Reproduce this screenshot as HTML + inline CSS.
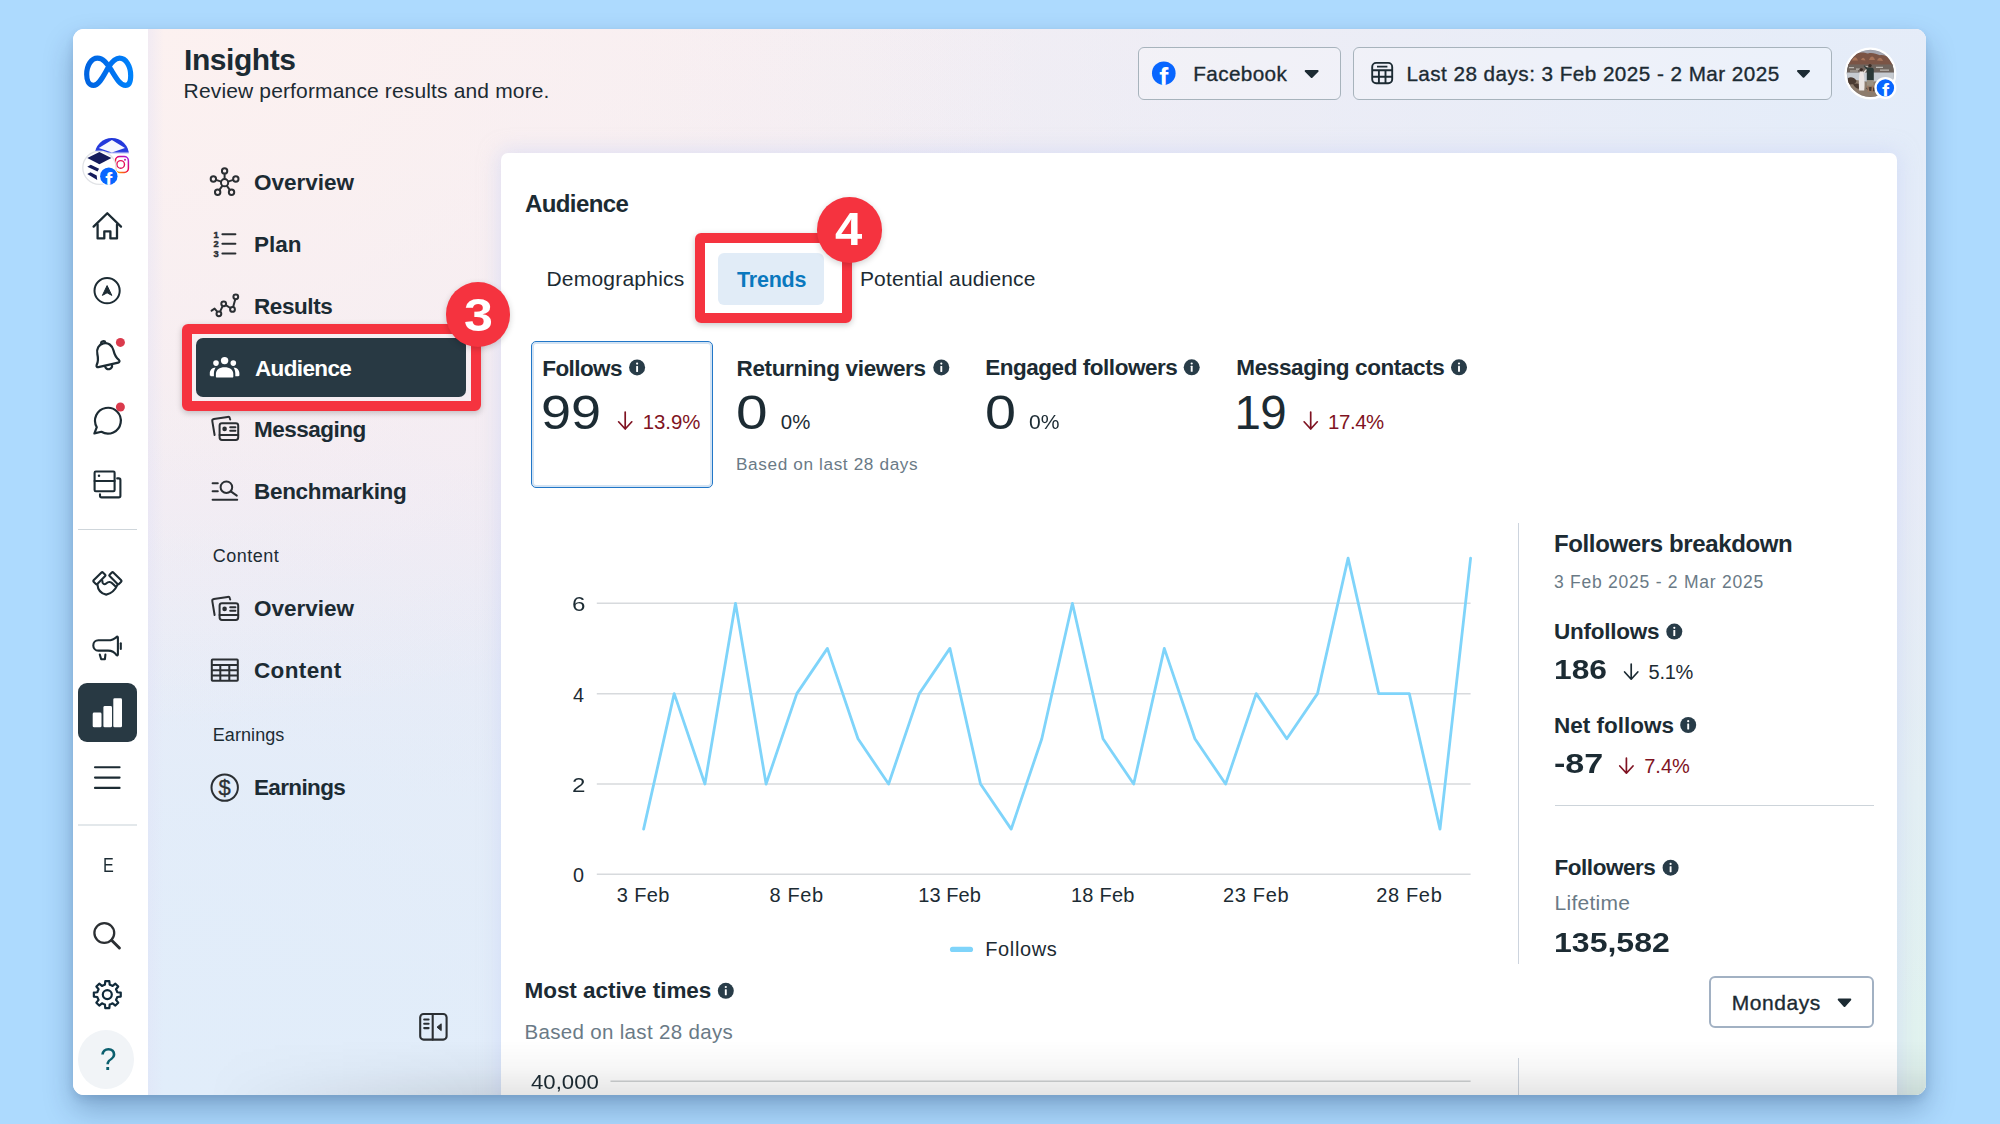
<!DOCTYPE html>
<html lang="en">
<head>
<meta charset="utf-8">
<title>Insights - Audience</title>
<style>
html,body{margin:0;padding:0;}
body{width:2000px;height:1124px;overflow:hidden;background:#addafe;font-family:"Liberation Sans",sans-serif;position:relative;}
.abs{position:absolute;}
#shadow{position:absolute;left:73px;top:29px;width:1853px;height:1066px;border-radius:11px;background:#fff;
  box-shadow:0 15px 30px rgba(5,35,80,.27),0 4px 9px rgba(5,35,80,.11);}
#win{position:absolute;left:0;top:0;width:2000px;height:1124px;clip-path:inset(29px 74px 29px 73px round 11px);}
#bg{position:absolute;left:148px;top:29px;width:1778px;height:1066px;
  background:
   linear-gradient(to right, rgba(224,224,246,.38) 0px, rgba(224,224,246,0) 16px),
   radial-gradient(ellipse 900px 700px at 0% 0%, #fcf1f0 0%, rgba(252,241,240,0) 100%),
   radial-gradient(ellipse 900px 700px at 0% 100%, #e1edfa 0%, rgba(225,237,250,0) 100%),
   radial-gradient(ellipse 1300px 900px at 100% 10%, #e3ecf9 0%, rgba(227,236,249,0) 100%),
   radial-gradient(ellipse 700px 700px at 100% 100%, #e1f3ee 0%, rgba(225,243,238,0) 100%),
   linear-gradient(to bottom, #f6eef2 0%, #efeaf4 45%, #e6ecf7 72%, #e2edf9 100%);}
#rail{position:absolute;left:73px;top:29px;width:75px;height:1066px;background:#fff;}
#card{position:absolute;left:501px;top:152.5px;width:1396px;height:960px;background:#fff;border-radius:7px 7px 0 0;box-shadow:0 0 20px 2px rgba(198,208,244,.52);}
.t{position:absolute;white-space:nowrap;line-height:1;}
.btn{position:absolute;box-sizing:border-box;border:1.8px solid #a7b3bc;border-radius:6px;}
.hl{position:absolute;box-sizing:border-box;border:10px solid #f5333f;border-radius:6px;box-shadow:0 2px 6px rgba(0,0,0,.22);}
.dot{position:absolute;border-radius:50%;background:#f5333f;box-shadow:0 2px 6px rgba(0,0,0,.18);}
</style>
</head>
<body>
<div id="shadow"></div>
<div id="win">
  <div id="bg"></div>
  <div id="rail"></div>
  <div id="card"></div>
  <!-- rail pieces -->
  <div class="abs" style="left:78px;top:528.5px;width:58.5px;height:1.5px;background:#cfd6db"></div>
  <div class="abs" style="left:78px;top:824px;width:58.5px;height:1.5px;background:#e3e8eb"></div>
  <div class="abs" style="left:78px;top:683.2px;width:58.5px;height:58.5px;border-radius:9px;background:#283943"></div>
  <div class="abs" style="left:77.8px;top:1030.2px;width:56px;height:58.4px;border-radius:50%;background:#f1f4f7"></div>
  <!-- active nav -->
  <div class="abs" style="left:195.7px;top:338px;width:270px;height:58.5px;border-radius:7px;background:#283943"></div>
  <!-- header buttons -->
  <div class="btn" style="left:1137.5px;top:47px;width:203px;height:52.5px;background:rgba(255,255,255,.25)"></div>
  <div class="btn" style="left:1353px;top:47px;width:479px;height:52.5px;background:rgba(255,255,255,.25)"></div>
  <!-- tabs -->
  <div class="abs" style="left:718.4px;top:252.6px;width:106px;height:52.6px;border-radius:6px;background:#e1ecf7"></div>
  <!-- follows card -->
  <div class="abs" style="left:530.5px;top:341px;width:182px;height:146.5px;box-sizing:border-box;border:1.6px solid #2277c8;border-radius:5px;box-shadow:inset 0 0 0 2px #d3e3f3"></div>
  <!-- right panel dividers -->
  <div class="abs" style="left:1517.8px;top:522.8px;width:1.5px;height:441px;background:#cdd4de"></div>
  <div class="abs" style="left:1517.8px;top:1058px;width:1.5px;height:40px;background:#cdd4de"></div>
  <div class="abs" style="left:1555px;top:804.5px;width:318.6px;height:1.5px;background:#cdd4da"></div>
  <div class="btn" style="left:1708.5px;top:976px;width:165px;height:52px;border-width:2px;border-color:#a2b1c3"></div>
<svg class="abs" style="left:0;top:0" width="2000" height="1124" viewBox="0 0 2000 1124" font-family="Liberation Sans, sans-serif">
<defs>
<linearGradient id="gMeta" x1="0" y1="0" x2="1" y2="0"><stop offset="0" stop-color="#0064e1"/><stop offset=".5" stop-color="#0070ee"/><stop offset="1" stop-color="#0082fb"/></linearGradient>
<linearGradient id="gBack" x1="0" y1="0" x2="0" y2="1"><stop offset="0" stop-color="#1f35d8"/><stop offset=".40" stop-color="#2a3fe0"/><stop offset=".47" stop-color="#ffffff"/><stop offset="1" stop-color="#ffffff"/></linearGradient>
<linearGradient id="gIg" x1="1" y1="0" x2="0.2" y2="1"><stop offset="0" stop-color="#a020f0"/><stop offset=".55" stop-color="#f00048"/><stop offset="1" stop-color="#ff9a00"/></linearGradient>
<linearGradient id="gAv" x1="0" y1="0" x2="0" y2="1"><stop offset="0" stop-color="#7a5040"/><stop offset=".28" stop-color="#9a6a52"/><stop offset=".42" stop-color="#b9b3ae"/><stop offset=".62" stop-color="#c9c8c8"/><stop offset=".8" stop-color="#a89686"/><stop offset="1" stop-color="#8d7a6a"/></linearGradient>
<clipPath id="cBack"><circle cx="111.9" cy="155" r="17.1"/></clipPath>
<clipPath id="cAv"><circle cx="1870.4" cy="73.4" r="23.6"/></clipPath>
</defs>
<line x1="596.8" y1="874.3" x2="1470.6" y2="874.3" stroke="#d7dadd" stroke-width="1.5"/>
<line x1="596.8" y1="784.0" x2="1470.6" y2="784.0" stroke="#d7dadd" stroke-width="1.5"/>
<line x1="596.8" y1="693.7" x2="1470.6" y2="693.7" stroke="#d7dadd" stroke-width="1.5"/>
<line x1="596.8" y1="603.3" x2="1470.6" y2="603.3" stroke="#d7dadd" stroke-width="1.5"/>
<line x1="610.5" y1="1081.3" x2="1470.6" y2="1081.3" stroke="#cfd2d4" stroke-width="1.5"/>
<polyline points="643.6,829.1 674.2,693.6 704.9,784.0 735.5,603.3 766.1,784.0 796.8,693.6 827.4,648.4 858.0,738.8 888.6,784.0 919.3,693.6 949.9,648.4 980.5,784.0 1011.2,829.1 1041.8,738.8 1072.4,603.3 1103.0,738.8 1133.7,784.0 1164.3,648.4 1194.9,738.8 1225.6,784.0 1256.2,693.6 1286.8,738.8 1317.5,693.6 1348.1,558.1 1378.7,693.6 1409.3,693.6 1440.0,829.1 1470.6,558.1" fill="none" stroke="#7fd4fa" stroke-width="2.8" stroke-linejoin="round" stroke-linecap="round"/>
<line x1="952.6" y1="949.4" x2="970.4" y2="949.4" stroke="#7fd4fa" stroke-width="5.3" stroke-linecap="round"/>
<g><circle cx="637.1" cy="367.4" r="8" fill="#283c48"/><rect x="636.15" y="365.90" width="1.9" height="6" rx=".4" fill="#fff"/><circle cx="637.1" cy="363.60" r="1.1" fill="#fff"/></g>
<g><circle cx="941.3" cy="367.4" r="8" fill="#283c48"/><rect x="940.35" y="365.90" width="1.9" height="6" rx=".4" fill="#fff"/><circle cx="941.3" cy="363.60" r="1.1" fill="#fff"/></g>
<g><circle cx="1191.7" cy="367.3" r="8" fill="#283c48"/><rect x="1190.75" y="365.80" width="1.9" height="6" rx=".4" fill="#fff"/><circle cx="1191.7" cy="363.50" r="1.1" fill="#fff"/></g>
<g><circle cx="1459" cy="367.3" r="8" fill="#283c48"/><rect x="1458.05" y="365.80" width="1.9" height="6" rx=".4" fill="#fff"/><circle cx="1459" cy="363.50" r="1.1" fill="#fff"/></g>
<g><circle cx="725.8" cy="990.8" r="8" fill="#283c48"/><rect x="724.85" y="989.30" width="1.9" height="6" rx=".4" fill="#fff"/><circle cx="725.8" cy="987.00" r="1.1" fill="#fff"/></g>
<g><circle cx="1674.3" cy="631.6" r="8" fill="#283c48"/><rect x="1673.35" y="630.10" width="1.9" height="6" rx=".4" fill="#fff"/><circle cx="1674.3" cy="627.80" r="1.1" fill="#fff"/></g>
<g><circle cx="1688.2" cy="725" r="8" fill="#283c48"/><rect x="1687.25" y="723.50" width="1.9" height="6" rx=".4" fill="#fff"/><circle cx="1688.2" cy="721.20" r="1.1" fill="#fff"/></g>
<g><circle cx="1670.6" cy="867.7" r="8" fill="#283c48"/><rect x="1669.65" y="866.20" width="1.9" height="6" rx=".4" fill="#fff"/><circle cx="1670.6" cy="863.90" r="1.1" fill="#fff"/></g>
<path d="M625.2,412 V428.4 M618.6,421.8 L625.2,429 L631.8000000000001,421.8" fill="none" stroke="#7f1322" stroke-width="1.7" stroke-linecap="round" stroke-linejoin="round"/>
<path d="M1310.7,412 V428.4 M1304.1000000000001,421.8 L1310.7,429 L1317.3,421.8" fill="none" stroke="#7f1322" stroke-width="1.7" stroke-linecap="round" stroke-linejoin="round"/>
<path d="M1631.2,664.2 V678.6 M1624.6000000000001,672.0 L1631.2,679.2 L1637.8,672.0" fill="none" stroke="#1c2b33" stroke-width="1.7" stroke-linecap="round" stroke-linejoin="round"/>
<path d="M1626.4,758.2 V772.6 M1619.8000000000002,766.0 L1626.4,773.2 L1633.0,766.0" fill="none" stroke="#7f1322" stroke-width="1.7" stroke-linecap="round" stroke-linejoin="round"/>
<path d="M1305.7,71 H1317.6 L1311.65,77 Z" fill="#1c2b33" stroke="#1c2b33" stroke-width="2" stroke-linejoin="round"/>
<path d="M1798.0,71 H1809.0 L1803.5,76.7 Z" fill="#1c2b33" stroke="#1c2b33" stroke-width="2" stroke-linejoin="round"/>
<path d="M1838.7,999.6 H1850.3 L1844.5,1006 Z" fill="#1c2b33" stroke="#1c2b33" stroke-width="2" stroke-linejoin="round"/>
<circle cx="1163.8" cy="73.2" r="11.8" fill="#0866ff"/>
<clipPath id="cFb1"><circle cx="1163.8" cy="73.2" r="11.8"/></clipPath><text clip-path="url(#cFb1)" x="1159.3" y="86.8" font-size="27" font-weight="700" fill="#fff">f</text>
<g fill="none" stroke="#1c2b33" stroke-width="1.9" stroke-linejoin="round"><rect x="1372.2" y="62.9" width="20" height="20.4" rx="4"/><path d="M1372.2,70.3 H1392.2 M1372.2,76.8 H1392.2 M1378.9,70.3 V83.3 M1385.5,70.3 V83.3 M1377,66.6 H1387.4"/></g>
<circle cx="1870.4" cy="73.4" r="26" fill="#fff"/>
<g clip-path="url(#cAv)"><rect x="1845" y="46" width="52" height="54" fill="#a3a4ae"/><path d="M1845,66 V60 C1849,54 1853,52.5 1857,53.2 C1861,51.8 1865,52.6 1868,53.6 C1872,52.2 1876,54 1880,55.2 C1884,54.6 1889,57 1897,62 V66 Z" fill="#7b5445"/><path d="M1852,60.5 C1854,56.5 1856,56 1858,60.5 Z M1869,60 C1871,55 1873.5,55.5 1875,60 Z M1877,60.5 C1879,56.5 1881.5,57 1883,61 Z M1861,60 C1862.5,57 1864,57 1865.5,60.5 Z" fill="#a8745a"/><rect x="1845" y="64.4" width="52" height="8.4" fill="#6f645d"/><path d="M1849,67 h5 v1.2 h-5 Z M1856,68.6 h6 v1.2 h-6 Z M1876,66.8 h7 v1.3 h-7 Z M1880,69.4 h9 v1.3 h-9 Z M1864,66 h4 v1 h-4 Z M1850,70.4 h8 v1.2 h-8 Z" fill="#cfcac6" opacity=".8"/><rect x="1845" y="72.6" width="52" height="8.6" fill="#c6cbd1"/><path d="M1845,81 C1852,78.5 1858,80.5 1864,81.5 C1872,83 1882,80 1897,82 V100 H1845 Z" fill="#8d7c6d"/><path d="M1848,78 C1851,76.5 1854,77.5 1856,80 C1858,83 1852,85.5 1848,84 Z M1853,84 C1857,82.5 1862,84 1863,87 C1860,90 1855,89 1853,84 Z M1866,88 C1870,86 1876,87.5 1878,90 C1874,92 1868,92 1866,88 Z" fill="#4b3b32"/><path d="M1859.8,71.5 C1858.8,76 1858.6,84 1859.2,90.6 H1864.2 C1865,84 1864.4,76 1863,71.5 Z" fill="#ebe5e3"/><path d="M1863,72.4 L1866.6,68.4 L1867.4,69.2 L1864,74 Z" fill="#e6ded9"/><circle cx="1861.2" cy="69.6" r="1.7" fill="#3a2b26"/><path d="M1866.8,69.6 C1866.8,68 1868,67.4 1870.2,67.4 C1872.6,67.4 1873.8,68.2 1873.8,69.8 V80.4 H1866.8 Z" fill="#2b3937"/><path d="M1866.8,69.8 L1863.6,66 L1864.4,65.4 L1868,68.6 Z" fill="#2b3937"/><circle cx="1870" cy="65.6" r="1.7" fill="#3b2c25"/><rect x="1866.9" y="80.2" width="6.6" height="5.6" fill="#9d9181"/><path d="M1867.6,85.8 L1868.6,92 M1872.6,85.8 L1872,92" stroke="#a07a62" stroke-width="1.5" fill="none"/><circle cx="1870.4" cy="73.4" r="23.6" fill="none" stroke="#00000010" stroke-width="1"/></g>
<circle cx="1885.4" cy="87.9" r="11" fill="#fff"/><circle cx="1885.4" cy="87.9" r="8.7" fill="#0866ff"/>
<clipPath id="cFb2"><circle cx="1885.4" cy="87.9" r="8.7"/></clipPath><text clip-path="url(#cFb2)" x="1881.9" y="98.2" font-size="21" font-weight="700" fill="#fff">f</text>
<path d="M93.5,85.4 C88.5,85.4 86.7,80 86.7,74.5 C86.7,65 91.5,58.2 97.5,58.2 C103,58.2 106.5,62.5 111.5,70.5 C117,79.5 120.5,85.4 125.5,85.4 C129.5,85.4 130.7,80.5 130.7,75.5 C130.7,66 126,58.2 119.5,58.2 C115,58.2 111.8,62 108.6,67 C104,74.5 99.5,85.4 93.5,85.4 Z" fill="none" stroke="url(#gMeta)" stroke-width="5.2" stroke-linejoin="round"/>
<g clip-path="url(#cBack)"><rect x="94" y="137" width="36" height="36" fill="url(#gBack)"/><path d="M98.8,148 L111.9,139.9 L125,148 L111.9,152.6 Z" fill="#fff" opacity=".96"/></g>
<rect x="115.4" y="156.6" width="13" height="15.8" rx="4.2" fill="#fff" stroke="url(#gIg)" stroke-width="1.5"/>
<circle cx="120.7" cy="164.4" r="3.8" fill="none" stroke="#e3125c" stroke-width="1.4"/><circle cx="125" cy="159.7" r="1" fill="#c619a6"/>
<circle cx="99.4" cy="167.8" r="16.6" fill="#fff" stroke="#e1e3e6" stroke-width="1.3"/>
<path d="M87.3,158 L99.4,151.9 L111.4,158 L99.4,164.2 Z" fill="#151c5c"/>
<path d="M87.3,166.8 L90.8,164.7 L99.1,168.7 L97.5,171.6 Z M87.3,174 L90.5,172.2 L96.7,175.4 L97.2,179.9 Z" fill="#151c5c"/>
<circle cx="108.8" cy="176.2" r="9.6" fill="#fff"/><circle cx="108.8" cy="176.2" r="8.7" fill="#0866ff"/>
<clipPath id="cFb3"><circle cx="108.8" cy="176.2" r="8.7"/></clipPath><text clip-path="url(#cFb3)" x="105.3" y="186.5" font-size="21" font-weight="700" fill="#fff">f</text>
<g fill="none" stroke="#1c2b33" stroke-width="2.3" stroke-linecap="round" stroke-linejoin="round"><path d="M93.6,226.6 L107.3,213.2 L121,226.6"/><path d="M97.6,224.5 V238.4 H104.3 V231.4 H110.4 V238.4 H117 V224.5"/></g>
<circle cx="107.1" cy="290.7" r="12.6" fill="none" stroke="#1c2b33" stroke-width="2"/>
<path d="M107.1,285.6 L111.8,295.4 L107.1,292.8 L102.4,295.4 Z" fill="#1c2b33" stroke="#1c2b33" stroke-width="1" stroke-linejoin="round"/>
<g transform="translate(106,354.8) rotate(-13) scale(1.12,1.1)" fill="none" stroke="#1c2b33" stroke-width="2" stroke-linejoin="round" stroke-linecap="round"><path d="M-10.2,7.2 C-8.4,5 -7.4,2 -7.4,-2.2 C-7.4,-7.4 -4.2,-10.6 0,-10.6 C4.2,-10.6 7.4,-7.4 7.4,-2.2 C7.4,2 8.4,5 10.2,7.2 C10.9,8.3 10.3,9.4 9.1,9.4 H-9.1 C-10.3,9.4 -10.9,8.3 -10.2,7.2 Z"/><path d="M-3.2,10 C-3.2,12.2 -1.6,13.4 0,13.4 C1.6,13.4 3.2,12.2 3.2,10"/><path d="M-1.9,-10.8 C-1.9,-13.2 1.9,-13.2 1.9,-10.8"/></g>
<circle cx="120.4" cy="342.4" r="4.5" fill="#da3a4c"/>
<path d="M94.4,433.4 L96.8,427.2 A12.9,12.9 0 1 1 101.4,431.8 Z" fill="none" stroke="#1c2b33" stroke-width="2.2" stroke-linejoin="round"/>
<circle cx="120.4" cy="407" r="4.5" fill="#da3a4c"/>
<g fill="none" stroke="#1c2b33" stroke-width="2.1" stroke-linejoin="round" stroke-linecap="round"><rect x="94.6" y="471.5" width="20" height="19.8" rx="1.2"/><path d="M94.6,481 H114.6"/><path d="M117.2,478.4 H118.8 Q120.4,478.4 120.4,480 V495.8 Q120.4,497.4 118.8,497.4 H101.6 Q100,497.4 100,495.8 V494.2"/></g>
<circle cx="99" cy="475.8" r="1.25" fill="#1c2b33"/>
<g fill="none" stroke="#1c2b33" stroke-width="2.1" stroke-linejoin="round" stroke-linecap="round"><rect x="-6.6" y="-2.6" width="13.2" height="5.2" rx="1" transform="translate(99.4,578.2) rotate(-45)"/><rect x="-6.6" y="-2.6" width="13.2" height="5.2" rx="1" transform="translate(115.4,578.2) rotate(45)"/><path d="M97.4,584.4 C97.8,589.5 101,593.6 106.2,594.6 C111.5,593.6 115.6,589 117.6,584.6"/><path d="M102.4,581 C102,584 104.5,585 106.2,583.4 C108.4,581.4 111,581.6 113,584 L115.6,586.6"/></g>
<g fill="none" stroke="#1c2b33" stroke-width="2.1" stroke-linejoin="round" stroke-linecap="round"><path d="M98.4,640.3 H108 C111.5,640.3 114.5,639 116.6,636.9 C117.2,636.4 117.9,636.8 117.9,637.6 V654.6 C117.9,655.4 117.2,655.8 116.6,655.3 C114.5,652 111.5,650.6 108,650.6 H98.4 C95.4,650.6 93.3,648.2 93.3,645.4 C93.3,642.6 95.4,640.3 98.4,640.3 Z"/><path d="M99.8,654.6 L101.2,659.2 H104.9 L105.4,654.6"/><path d="M120.8,643.2 V649"/></g>
<rect x="92.7" y="712.6" width="8.8" height="14.7" rx="1.4" fill="#fff"/>
<rect x="103.4" y="706.1" width="8.6" height="21.2" rx="1.4" fill="#fff"/>
<rect x="113.3" y="698.3" width="8.7" height="29.0" rx="1.4" fill="#fff"/>
<line x1="95" y1="767.3" x2="119.6" y2="767.3" stroke="#1c2b33" stroke-width="2.1" stroke-linecap="round"/>
<line x1="95" y1="777.6" x2="119.6" y2="777.6" stroke="#1c2b33" stroke-width="2.1" stroke-linecap="round"/>
<line x1="95" y1="787.9" x2="119.6" y2="787.9" stroke="#1c2b33" stroke-width="2.1" stroke-linecap="round"/>
<circle cx="104.3" cy="933" r="9.9" fill="none" stroke="#2b2f33" stroke-width="2.3"/>
<line x1="111.6" y1="940.3" x2="119.4" y2="948" stroke="#2b2f33" stroke-width="3" stroke-linecap="round"/>
<path d="M103.40,985.18 L104.92,984.68 L105.28,981.15 L109.32,981.15 L109.68,984.68 L111.20,985.18 L112.63,985.90 L115.38,983.66 L118.24,986.52 L116.00,989.27 L116.72,990.70 L117.22,992.22 L120.75,992.58 L120.75,996.62 L117.22,996.98 L116.72,998.50 L116.00,999.93 L118.24,1002.68 L115.38,1005.54 L112.63,1003.30 L111.20,1004.02 L109.68,1004.52 L109.32,1008.05 L105.28,1008.05 L104.92,1004.52 L103.40,1004.02 L101.97,1003.30 L99.22,1005.54 L96.36,1002.68 L98.60,999.93 L97.88,998.50 L97.38,996.98 L93.85,996.62 L93.85,992.58 L97.38,992.22 L97.88,990.70 L98.60,989.27 L96.36,986.52 L99.22,983.66 L101.97,985.90 Z" fill="none" stroke="#102a3a" stroke-width="2.2" stroke-linejoin="round"/>
<circle cx="107.3" cy="994.6" r="4.5" fill="none" stroke="#102a3a" stroke-width="2.2"/>
<g fill="none" stroke="#2b2f33" stroke-width="2">
<circle cx="224.6" cy="182.7" r="3.6"/>
<circle cx="224.60" cy="170.90" r="2.7"/>
<line x1="224.60" y1="179.10" x2="224.60" y2="173.60"/>
<circle cx="235.82" cy="179.05" r="2.7"/>
<line x1="228.02" y1="181.59" x2="233.25" y2="179.89"/>
<circle cx="231.54" cy="192.25" r="2.7"/>
<line x1="226.72" y1="185.61" x2="229.95" y2="190.06"/>
<circle cx="217.66" cy="192.25" r="2.7"/>
<line x1="222.48" y1="185.61" x2="219.25" y2="190.06"/>
<circle cx="213.38" cy="179.05" r="2.7"/>
<line x1="221.18" y1="181.59" x2="215.95" y2="179.89"/>
</g>
<line x1="222.4" y1="234.3" x2="235.4" y2="234.3" stroke="#2b2f33" stroke-width="2" stroke-linecap="round"/>
<text x="213.4" y="237.6" font-size="9.4" font-weight="700" fill="#2b2f33" stroke="#2b2f33" stroke-width=".45">1</text>
<line x1="222.4" y1="243.8" x2="235.4" y2="243.8" stroke="#2b2f33" stroke-width="2" stroke-linecap="round"/>
<text x="213.4" y="247.1" font-size="9.4" font-weight="700" fill="#2b2f33" stroke="#2b2f33" stroke-width=".45">2</text>
<line x1="222.4" y1="253.4" x2="235.4" y2="253.4" stroke="#2b2f33" stroke-width="2" stroke-linecap="round"/>
<text x="213.4" y="256.7" font-size="9.4" font-weight="700" fill="#2b2f33" stroke="#2b2f33" stroke-width=".45">3</text>
<g fill="none" stroke="#2b2f33" stroke-width="2" stroke-linecap="round" stroke-linejoin="round"><path d="M211.6,310.6 L214.6,308.6 L217.2,311.6 M220.2,311.4 L222.6,306.2 M225.8,305.2 L230.4,308 M233.2,306.8 L235.2,299.6"/><circle cx="218.9" cy="313.8" r="2.4"/><circle cx="223.7" cy="303.8" r="2.4"/><circle cx="232.5" cy="309.4" r="2.4"/><circle cx="235.8" cy="296.8" r="2.4"/></g>
<g fill="#fff"><circle cx="224.6" cy="360.6" r="3.7"/><path d="M216.8,377.6 C216.2,377.6 215.9,377.1 215.9,376.4 V374 C215.9,369.6 219.4,367.2 224.6,367.2 C229.8,367.2 233.3,369.6 233.3,374 V376.4 C233.3,377.1 233,377.6 232.4,377.6 Z"/><circle cx="216" cy="363.1" r="2.8"/><circle cx="233.3" cy="363.1" r="2.8"/><path d="M215.6,367.6 C212,367.8 209.8,370.2 209.8,373.6 V375 C209.8,375.8 210.2,376.2 210.9,376.2 H213.9 V373.6 C213.9,371.2 214.6,369.2 215.6,367.6 Z"/><path d="M233.6,367.6 C237.2,367.8 239.4,370.2 239.4,373.6 V375 C239.4,375.8 239,376.2 238.3,376.2 H235.3 V373.6 C235.3,371.2 234.6,369.2 233.6,367.6 Z"/></g>
<g transform="translate(0,0)" fill="none" stroke="#2b2f33" stroke-width="2" stroke-linejoin="round" stroke-linecap="round"><rect x="219.6" y="423.2" width="18.6" height="16.8" rx="2.4"/><path d="M219.6,434.9 H238.2 M230.2,427.3 H235.4 M230.2,430.7 H235.4"/><path d="M214.6,435 L212.3,421.2 C212.1,420 212.8,419.2 213.9,419 L227.6,416.9 C228.8,416.7 229.7,417.3 229.9,418.4 L230.2,419.6"/></g><circle cx="224.6" cy="428.9" r="2.3" fill="#2b2f33"/>
<g transform="translate(0,180)" fill="none" stroke="#2b2f33" stroke-width="2" stroke-linejoin="round" stroke-linecap="round"><rect x="219.6" y="423.2" width="18.6" height="16.8" rx="2.4"/><path d="M219.6,434.9 H238.2 M230.2,427.3 H235.4 M230.2,430.7 H235.4"/><path d="M214.6,435 L212.3,421.2 C212.1,420 212.8,419.2 213.9,419 L227.6,416.9 C228.8,416.7 229.7,417.3 229.9,418.4 L230.2,419.6"/></g><circle cx="224.6" cy="608.9" r="2.3" fill="#2b2f33"/>
<g fill="none" stroke="#2b2f33" stroke-width="2" stroke-linecap="round"><path d="M212.6,483.2 H217.8 M212.6,491.2 H217.8 M212.6,499.8 H237.2"/><circle cx="226.4" cy="487.2" r="5.8"/><path d="M230.8,491.4 L236.8,495.6"/></g>
<g fill="none" stroke="#2b2f33" stroke-width="2" stroke-linejoin="round"><rect x="211.8" y="659.6" width="26" height="21.2" rx=".8"/><path d="M211.8,665 H237.8 M211.8,670.3 H237.8 M211.8,675.6 H237.8 M220.3,665 V680.8 M229.3,665 V680.8"/></g>
<circle cx="224.7" cy="787.6" r="13.2" fill="none" stroke="#2b2f33" stroke-width="2"/>
<text x="224.7" y="795.4" font-size="22" text-anchor="middle" fill="#2b2f33" stroke="#2b2f33" stroke-width=".3">$</text>
<g fill="none" stroke="#2b2f33" stroke-width="2.1" stroke-linejoin="round" stroke-linecap="round"><rect x="420.2" y="1014" width="26.4" height="25.6" rx="3.4"/><path d="M432.7,1014 V1039.6 M424.2,1019.5 H428.6 M424.2,1023.8 H428.6 M424.2,1028.1 H428.6"/></g>
<path d="M441.2,1023.8 L437,1027.2 L441.2,1030.6 Z" fill="#2b2f33" stroke="#2b2f33" stroke-width="1" stroke-linejoin="round"/>
</svg>
  <!-- callouts -->
  <div class="hl" style="left:182.4px;top:323.9px;width:298.5px;height:87px"></div>
  <div class="dot" style="left:445.6px;top:282.4px;width:64.6px;height:64.6px"></div>
  <div class="hl" style="left:694.6px;top:233.4px;width:157.3px;height:90px"></div>
  <div class="dot" style="left:816.6px;top:197.4px;width:65.2px;height:65.2px"></div>
<span class="t" style="left:184.00px;top:45.00px;font-size:30px;font-weight:700;color:#1c2b33;letter-spacing:-0.429px;">Insights</span>
<span class="t" style="left:183.60px;top:80.00px;font-size:21px;font-weight:400;color:#1c2b33;letter-spacing:0.149px;">Review performance results and more.</span>
<span class="t" style="left:254.00px;top:172.00px;font-size:22.5px;font-weight:700;color:#1c2b33;">Overview</span>
<span class="t" style="left:254.00px;top:234.00px;font-size:22.5px;font-weight:700;color:#1c2b33;">Plan</span>
<span class="t" style="left:254.00px;top:296.00px;font-size:22.5px;font-weight:700;color:#1c2b33;letter-spacing:-0.417px;">Results</span>
<span class="t" style="left:255.00px;top:358.00px;font-size:22.5px;font-weight:700;color:#ffffff;letter-spacing:-0.643px;">Audience</span>
<span class="t" style="left:254.00px;top:419.00px;font-size:22.5px;font-weight:700;color:#1c2b33;letter-spacing:-0.500px;">Messaging</span>
<span class="t" style="left:254.00px;top:481.00px;font-size:22.5px;font-weight:700;color:#1c2b33;letter-spacing:-0.318px;">Benchmarking</span>
<span class="t" style="left:212.75px;top:547.00px;font-size:18px;font-weight:400;color:#1c2b33;letter-spacing:0.500px;">Content</span>
<span class="t" style="left:254.00px;top:598.00px;font-size:22.5px;font-weight:700;color:#1c2b33;">Overview</span>
<span class="t" style="left:254.00px;top:660.00px;font-size:22.5px;font-weight:700;color:#1c2b33;letter-spacing:0.375px;">Content</span>
<span class="t" style="left:212.75px;top:726.00px;font-size:18px;font-weight:400;color:#1c2b33;letter-spacing:0.071px;">Earnings</span>
<span class="t" style="left:254.00px;top:777.00px;font-size:22.5px;font-weight:700;color:#1c2b33;letter-spacing:-0.643px;">Earnings</span>
<span class="t" style="left:102.58px;top:856.00px;font-size:19.6px;font-weight:400;color:#1c2b33;transform:scaleX(0.8250);transform-origin:0 0;">E</span>
<span class="t" style="left:99.75px;top:1044.00px;font-size:31px;font-weight:400;color:#0b5f6e;transform:scaleX(0.9533);transform-origin:0 0;">?</span>
<span class="t" style="left:1193.25px;top:64.00px;font-size:20.7px;font-weight:400;color:#1c2b33;letter-spacing:0.393px;-webkit-text-stroke:.35px #1c2b33;">Facebook</span>
<span class="t" style="left:1406.40px;top:64.00px;font-size:20.7px;font-weight:400;color:#1c2b33;letter-spacing:0.453px;-webkit-text-stroke:.35px #1c2b33;">Last 28 days: 3 Feb 2025 - 2 Mar 2025</span>
<span class="t" style="left:525.00px;top:192.00px;font-size:24px;font-weight:700;color:#1c2b33;letter-spacing:-0.607px;">Audience</span>
<span class="t" style="left:546.40px;top:268.00px;font-size:21px;font-weight:400;color:#1c2b33;letter-spacing:0.227px;">Demographics</span>
<span class="t" style="left:737.00px;top:270.00px;font-size:21.5px;font-weight:700;color:#0a78be;letter-spacing:-0.200px;">Trends</span>
<span class="t" style="left:859.90px;top:268.00px;font-size:21px;font-weight:400;color:#1c2b33;letter-spacing:0.159px;">Potential audience</span>
<span class="t" style="left:542.25px;top:358.00px;font-size:22.5px;font-weight:700;color:#1c2b33;letter-spacing:-0.583px;">Follows</span>
<span class="t" style="left:541.47px;top:389.00px;font-size:47.5px;font-weight:400;color:#1c2b33;transform:scaleX(1.1378);transform-origin:0 0;">99</span>
<span class="t" style="left:642.75px;top:412.00px;font-size:20.4px;font-weight:400;color:#7f1322;letter-spacing:-0.062px;">13.9%</span>
<span class="t" style="left:736.50px;top:358.00px;font-size:22.5px;font-weight:700;color:#1c2b33;letter-spacing:-0.344px;">Returning viewers</span>
<span class="t" style="left:735.86px;top:389.00px;font-size:47.5px;font-weight:400;color:#1c2b33;transform:scaleX(1.1957);transform-origin:0 0;">0</span>
<span class="t" style="left:780.75px;top:412.00px;font-size:20.4px;font-weight:400;color:#1c2b33;letter-spacing:0.250px;">0%</span>
<span class="t" style="left:736.00px;top:456.00px;font-size:17.2px;font-weight:400;color:#6a7a86;letter-spacing:0.625px;">Based on last 28 days</span>
<span class="t" style="left:985.20px;top:357.00px;font-size:22.5px;font-weight:700;color:#1c2b33;letter-spacing:-0.463px;">Engaged followers</span>
<span class="t" style="left:984.65px;top:389.00px;font-size:47.5px;font-weight:400;color:#1c2b33;transform:scaleX(1.1739);transform-origin:0 0;">0</span>
<span class="t" style="left:1029.40px;top:412.00px;font-size:20.4px;font-weight:400;color:#1c2b33;transform:scaleX(1.0345);transform-origin:0 0;">0%</span>
<span class="t" style="left:1236.30px;top:357.00px;font-size:22.5px;font-weight:700;color:#1c2b33;letter-spacing:-0.382px;">Messaging contacts</span>
<span class="t" style="left:1234.60px;top:389.00px;font-size:47.5px;font-weight:400;color:#1c2b33;letter-spacing:-0.700px;">19</span>
<span class="t" style="left:1328.10px;top:412.00px;font-size:20.4px;font-weight:400;color:#7f1322;letter-spacing:-0.425px;">17.4%</span>
<span class="t" style="left:573.00px;top:866.00px;font-size:19.8px;font-weight:400;color:#1c2b33;">0</span>
<span class="t" style="left:571.78px;top:776.00px;font-size:19.8px;font-weight:400;color:#1c2b33;transform:scaleX(1.2222);transform-origin:0 0;">2</span>
<span class="t" style="left:573.00px;top:686.00px;font-size:19.8px;font-weight:400;color:#1c2b33;">4</span>
<span class="t" style="left:571.78px;top:595.00px;font-size:19.8px;font-weight:400;color:#1c2b33;transform:scaleX(1.2222);transform-origin:0 0;">6</span>
<span class="t" style="left:616.85px;top:885.00px;font-size:20px;font-weight:400;color:#1c2b33;letter-spacing:0.375px;">3 Feb</span>
<span class="t" style="left:769.60px;top:885.00px;font-size:20px;font-weight:400;color:#1c2b33;letter-spacing:0.575px;">8 Feb</span>
<span class="t" style="left:918.25px;top:885.00px;font-size:20px;font-weight:400;color:#1c2b33;letter-spacing:0.060px;">13 Feb</span>
<span class="t" style="left:1070.90px;top:885.00px;font-size:20px;font-weight:400;color:#1c2b33;letter-spacing:0.260px;">18 Feb</span>
<span class="t" style="left:1223.05px;top:885.00px;font-size:20px;font-weight:400;color:#1c2b33;letter-spacing:0.660px;">23 Feb</span>
<span class="t" style="left:1376.20px;top:885.00px;font-size:20px;font-weight:400;color:#1c2b33;letter-spacing:0.660px;">28 Feb</span>
<span class="t" style="left:985.25px;top:939.00px;font-size:20px;font-weight:400;color:#1c2b33;letter-spacing:0.625px;">Follows</span>
<span class="t" style="left:524.50px;top:980.00px;font-size:22.5px;font-weight:700;color:#1c2b33;letter-spacing:-0.047px;">Most active times</span>
<span class="t" style="left:524.50px;top:1022.00px;font-size:20.5px;font-weight:400;color:#6a7a86;letter-spacing:0.325px;">Based on last 28 days</span>
<span class="t" style="left:531.00px;top:1073.00px;font-size:19.6px;font-weight:400;color:#1c2b33;transform:scaleX(1.1322);transform-origin:0 0;">40,000</span>
<span class="t" style="left:1554.00px;top:532.00px;font-size:24px;font-weight:700;color:#1c2b33;letter-spacing:-0.372px;">Followers breakdown</span>
<span class="t" style="left:1554.00px;top:574.00px;font-size:17.5px;font-weight:400;color:#6a7a86;letter-spacing:0.750px;">3 Feb 2025 - 2 Mar 2025</span>
<span class="t" style="left:1554.00px;top:621.00px;font-size:22.5px;font-weight:700;color:#1c2b33;letter-spacing:-0.262px;">Unfollows</span>
<span class="t" style="left:1553.89px;top:655.00px;font-size:28.5px;font-weight:700;color:#1c2b33;transform:scaleX(1.1130);transform-origin:0 0;">186</span>
<span class="t" style="left:1648.50px;top:662.00px;font-size:20px;font-weight:400;color:#1c2b33;letter-spacing:-0.233px;">5.1%</span>
<span class="t" style="left:1554.00px;top:715.00px;font-size:22.5px;font-weight:700;color:#1c2b33;letter-spacing:0.010px;">Net follows</span>
<span class="t" style="left:1553.80px;top:749.00px;font-size:28.5px;font-weight:700;color:#1c2b33;transform:scaleX(1.1974);transform-origin:0 0;">-87</span>
<span class="t" style="left:1644.20px;top:756.00px;font-size:20px;font-weight:400;color:#7f1322;letter-spacing:0.033px;">7.4%</span>
<span class="t" style="left:1554.50px;top:857.00px;font-size:22.5px;font-weight:700;color:#1c2b33;letter-spacing:-0.463px;">Followers</span>
<span class="t" style="left:1554.50px;top:892.00px;font-size:21px;font-weight:400;color:#6a7a86;letter-spacing:0.286px;">Lifetime</span>
<span class="t" style="left:1554.38px;top:928.00px;font-size:28.5px;font-weight:700;color:#1c2b33;transform:scaleX(1.1238);transform-origin:0 0;">135,582</span>
<span class="t" style="left:1731.80px;top:992.00px;font-size:21px;font-weight:400;color:#1c2b33;letter-spacing:0.533px;-webkit-text-stroke:.35px #1c2b33;">Mondays</span>
<span class="t" style="left:463.87px;top:292.00px;font-size:46px;font-weight:700;color:#ffffff;transform:scaleX(1.1304);transform-origin:0 0;">3</span>
<span class="t" style="left:835.30px;top:206.00px;font-size:46px;font-weight:700;color:#ffffff;transform:scaleX(1.0654);transform-origin:0 0;">4</span>
  <!-- bottom fade -->
  <div class="abs" style="left:148px;top:1040px;width:1778px;height:55px;background:linear-gradient(to bottom, rgba(0,0,0,0) 0%, rgba(0,0,0,.03) 50%, rgba(0,0,0,.10) 100%);-webkit-mask-image:linear-gradient(to right, rgba(0,0,0,0) 60px, #000 330px);mask-image:linear-gradient(to right, rgba(0,0,0,0) 60px, #000 330px)"></div>
</div>
</body>
</html>
